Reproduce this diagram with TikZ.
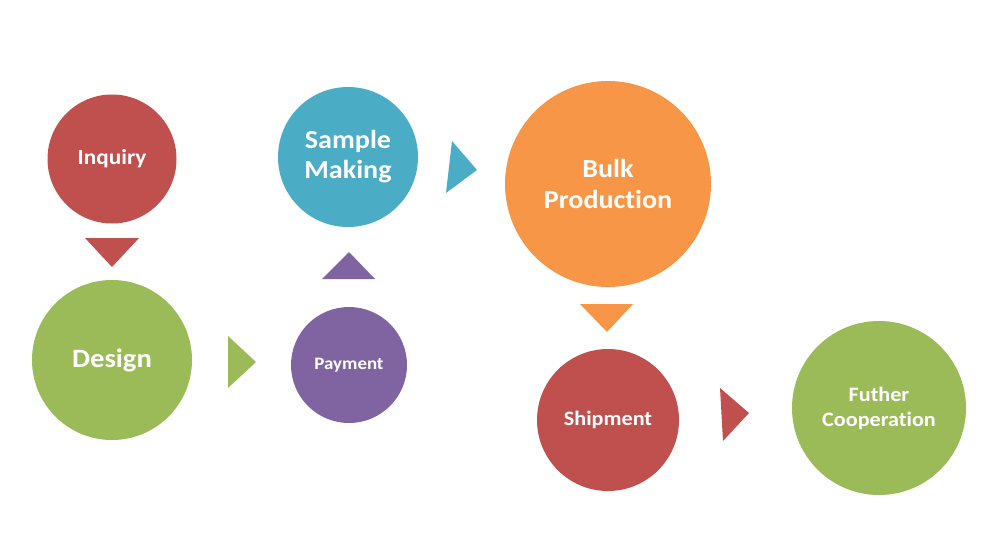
\documentclass[tikz,border=0pt]{standalone}
\usepackage{fontspec}
\setmainfont{Carlito}[Ligatures=NoCommon,FakeStretch=1.08]
\definecolor{cred}{HTML}{C0504D}
\definecolor{cgreen}{HTML}{9BBB59}
\definecolor{cpurple}{HTML}{8064A2}
\definecolor{cteal}{HTML}{4BACC6}
\definecolor{corange}{HTML}{F79646}
\begin{document}
\begin{tikzpicture}[x=1pt,y=-1pt,
  stage/.style={circle,inner sep=0pt,text=white,font=\bfseries,align=center}]
\useasboundingbox (0,0) rectangle (990,554);
% circles
\node[stage,fill=cred,minimum size=129pt,font=\bfseries\fontsize{21.5}{25}\selectfont] (inq) at (112,159) {Inquiry};
\node[stage,fill=cgreen,minimum size=160pt,font=\bfseries\fontsize{26.5}{30}\selectfont] (des) at (112,360) {Design};
\node[stage,fill=cpurple,minimum size=116pt,font=\bfseries\fontsize{17.5}{20}\selectfont] (pay) at (349,365) {Payment};
\node[stage,fill=cteal,minimum size=140pt,font=\bfseries\fontsize{26}{30}\selectfont] (smp) at (348,157) {Sample\\Making};
\node[stage,fill=corange,minimum size=206pt,font=\bfseries\fontsize{26}{31}\selectfont] (blk) at (608,184) {Bulk\\Production};
\node[stage,fill=cred,minimum size=142pt,font=\bfseries\fontsize{20.5}{23}\selectfont] (shp) at (608,420) {Shipment};
\node[stage,fill=cgreen,minimum size=174pt,font=\bfseries\fontsize{20.5}{25}\selectfont] (fut) at (879,408) {Futher\\Cooperation};
% triangles
\fill[cred] (85,238) -- (139,238) -- (112,267) -- cycle;
\fill[cgreen] (228,336) -- (256,362) -- (228,388) -- cycle;
\fill[cpurple] (322,279) -- (349,252) -- (375,279) -- cycle;
\fill[cteal] (452,141) -- (477,170) -- (446,193) -- cycle;
\fill[corange] (580,304) -- (633,304) -- (607,332) -- cycle;
\fill[cred] (720,388) -- (749,413) -- (723,441) -- cycle;
\end{tikzpicture}
\end{document}
